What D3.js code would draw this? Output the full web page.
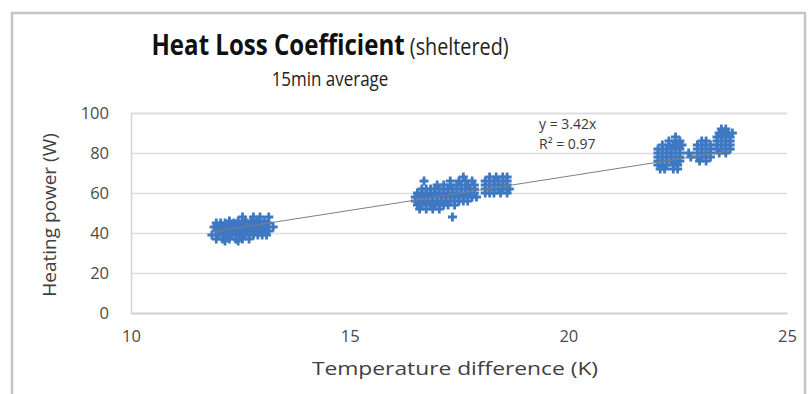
<!DOCTYPE html>
<html><head><meta charset="utf-8">
<script src="https://cdn.jsdelivr.net/npm/d3@7"></script>
<style>
body{margin:0;background:#fff}
text{font-family:"Open Sans",sans-serif}
</style>
</head><body>
<svg id="c" width="808" height="394"></svg>
<script>
// ---- data ----
const titleMain = "Heat Loss Coefficient";
const titleSub = " (sheltered)";
const subtitle = "15min average";
const xLabel = "Temperature difference (K)";
const yLabel = "Heating power (W)";
const xTicks = [10, 15, 20, 25];
const yTicks = [0, 20, 40, 60, 80, 100];
const trendSlope = 3.42;
const trendR2 = 0.97;

// rows: [heating power, [temperature differences]]
const cluster1 = [
  [48, [12.55, 12.8, 12.95, 13.15]],
  [46, [12.25, 12.45, 12.6, 12.75, 12.9, 13.05]],
  [45, [11.95, 12.05, 12.15, 12.25, 12.35, 12.45, 12.55, 12.65, 12.75, 12.85, 12.95, 13.05, 13.15]],
  [43, [11.9, 12.0, 12.1, 12.2, 12.3, 12.4, 12.5, 12.6, 12.7, 12.8, 12.9, 13.0, 13.1, 13.25]],
  [41, [11.95, 12.05, 12.15, 12.25, 12.35, 12.45, 12.55, 12.65, 12.75, 12.85, 12.95, 13.05, 13.15]],
  [39, [11.85, 12.0, 12.1, 12.2, 12.3, 12.4, 12.5, 12.6, 12.7, 12.8, 12.9, 13.0, 13.1]],
  [37, [11.95, 12.1, 12.25, 12.4, 12.55, 12.7]],
  [36, [12.15, 12.45]]
];
const cluster2 = [
  [68, [17.6]],
  [66, [16.7, 17.3, 17.5, 17.65, 17.8]],
  [64, [17.0, 17.15, 17.3, 17.45, 17.55, 17.7, 17.85]],
  [62, [16.65, 16.75, 16.85, 16.95, 17.05, 17.15, 17.25, 17.35, 17.45, 17.55, 17.65, 17.75, 17.85]],
  [60, [16.55, 16.65, 16.75, 16.85, 16.95, 17.05, 17.15, 17.25, 17.35, 17.45, 17.55, 17.65, 17.75, 17.85]],
  [58, [16.5, 16.6, 16.7, 16.8, 16.9, 17.0, 17.1, 17.2, 17.3, 17.4, 17.5, 17.6, 17.7, 17.8, 17.9]],
  [56, [16.5, 16.6, 16.7, 16.8, 16.9, 17.0, 17.1, 17.2, 17.3, 17.4, 17.5, 17.6, 17.7]],
  [54, [16.55, 16.65, 16.75, 16.85, 16.95, 17.05, 17.15, 17.25, 17.4]],
  [52, [16.6, 16.75, 16.9, 17.05]],
  [48, [17.35]]
];
const cluster3 = [
  [68, [18.2, 18.35, 18.5, 18.6]],
  [66, [18.1, 18.2, 18.3, 18.4, 18.5, 18.6]],
  [64, [18.1, 18.2, 18.3, 18.4, 18.5, 18.6]],
  [62, [18.1, 18.2, 18.3, 18.4, 18.5, 18.6, 18.65]],
  [60, [18.1, 18.2, 18.3, 18.45, 18.6]]
];
const cluster4 = [
  [88, [22.45]],
  [86, [22.3, 22.45, 22.55]],
  [84, [22.15, 22.3, 22.4, 22.5, 22.6]],
  [82, [22.05, 22.15, 22.25, 22.35, 22.45, 22.55]],
  [80, [22.05, 22.15, 22.25, 22.35, 22.45, 22.55, 22.75]],
  [78, [22.05, 22.15, 22.25, 22.35, 22.45, 22.55, 22.8]],
  [76, [22.05, 22.15, 22.25, 22.35, 22.45, 22.55]],
  [74, [22.05, 22.15, 22.25, 22.4, 22.5]],
  [72, [22.1, 22.2, 22.4, 22.5]]
];
const cluster5 = [
  [86, [23.05, 23.15]],
  [84, [22.95, 23.05, 23.15, 23.25]],
  [82, [22.95, 23.05, 23.15, 23.25]],
  [80, [22.95, 23.05, 23.15, 23.25]],
  [78, [22.95, 23.05, 23.15, 23.25]],
  [76, [23.0, 23.15]]
];
const cluster6 = [
  [92, [23.5, 23.6]],
  [90, [23.45, 23.55, 23.65, 23.75]],
  [88, [23.4, 23.5, 23.6, 23.7]],
  [86, [23.4, 23.5, 23.6, 23.7]],
  [84, [23.4, 23.5, 23.6, 23.7]],
  [82, [23.4, 23.5, 23.6, 23.7]],
  [80, [23.45, 23.6]]
];

// ---- chart ----
const svg = d3.select("#c");
const plot = {left: 131, right: 787, top: 113, bottom: 313};
const x = d3.scaleLinear().domain([10, 25]).range([plot.left, plot.right]);
const y = d3.scaleLinear().domain([0, 100]).range([plot.bottom, plot.top]);

// outer chart frame
svg.append("rect").attr("x", 12).attr("y", 13).attr("width", 793).attr("height", 400)
  .attr("fill", "#fff").attr("stroke", "#c4c4c4").attr("stroke-width", 2.5);

// title (condensed to mimic the original's narrow face)
const t = svg.append("text").attr("transform", "translate(330,55) scale(0.86,1)")
  .attr("text-anchor", "middle").attr("fill", "#111");
t.append("tspan").attr("font-weight", "bold").style("font-size", "28px").text(titleMain);
t.append("tspan").attr("font-weight", "normal").style("font-size", "23px").attr("fill", "#222").text(titleSub);
svg.append("text").attr("transform", "translate(330,86) scale(0.87,1)").attr("text-anchor", "middle")
  .attr("fill", "#222").style("font-size", "19.5px").text(subtitle);

// gridlines + axes
const yAxis = d3.axisLeft(y).tickValues(yTicks).tickSize(-(plot.right - plot.left)).tickPadding(22);
const gy = svg.append("g").attr("transform", `translate(${plot.left},0)`).call(yAxis);
gy.select(".domain").attr("stroke", "#d4d4d4").attr("stroke-width", 1.5);
gy.selectAll(".tick line").attr("stroke", "#dcdcdc").attr("stroke-width", 1.5);
gy.selectAll(".tick text").attr("fill", "#4a4a4a").style("font-size", "16.5px").style("font-family", "Open Sans");

const xAxis = d3.axisBottom(x).tickValues(xTicks).tickSize(0).tickPadding(17);
const gx = svg.append("g").attr("transform", `translate(0,${plot.bottom})`).call(xAxis);
gx.select(".domain").attr("stroke", "#d0d0d0").attr("stroke-width", 1.5);
gx.selectAll(".tick text").attr("fill", "#4a4a4a").style("font-size", "16.5px").style("font-family", "Open Sans");

// axis titles
const xTitleX = (plot.left + plot.right) / 2 - 4;
svg.append("text").attr("transform", `translate(${xTitleX},375) scale(1.2,1)`).attr("text-anchor", "middle")
  .attr("fill", "#404040").style("font-size", "19px").text(xLabel);
svg.append("text").attr("transform", `translate(56,${(plot.top + plot.bottom) / 2 + 2}) rotate(-90)`)
  .attr("text-anchor", "middle").attr("fill", "#404040").style("font-size", "19px").text(yLabel);

// points
const clusters = [cluster1, cluster2, cluster3, cluster4, cluster5, cluster6];
const pts = [];
clusters.forEach(c => c.forEach(([p, xs]) => xs.forEach(dt => pts.push({dt, p}))));
svg.append("g").selectAll("path").data(pts).join("path")
  .attr("transform", d => `translate(${x(d.dt)},${y(d.p)})`)
  .attr("d", "M-4.5,0H4.5M0,-4.5V4.5")
  .attr("stroke", "#3f78c2").attr("stroke-width", 2.8).attr("fill", "none");

// trendline (through origin)
const ext = d3.extent(pts, d => d.dt);
svg.append("line")
  .attr("x1", x(ext[0])).attr("y1", y(trendSlope * ext[0]))
  .attr("x2", x(ext[1])).attr("y2", y(trendSlope * ext[1]))
  .attr("stroke", "#7f7f7f").attr("stroke-width", 1);

// equation label
svg.append("text").attr("x", 539).attr("y", 129).attr("fill", "#3a3a3a").style("font-size", "14px")
  .text(`y = ${trendSlope}x`);
svg.append("text").attr("x", 539).attr("y", 149).attr("fill", "#3a3a3a").style("font-size", "14px")
  .text("R² = " + trendR2);
</script>
</body></html>
